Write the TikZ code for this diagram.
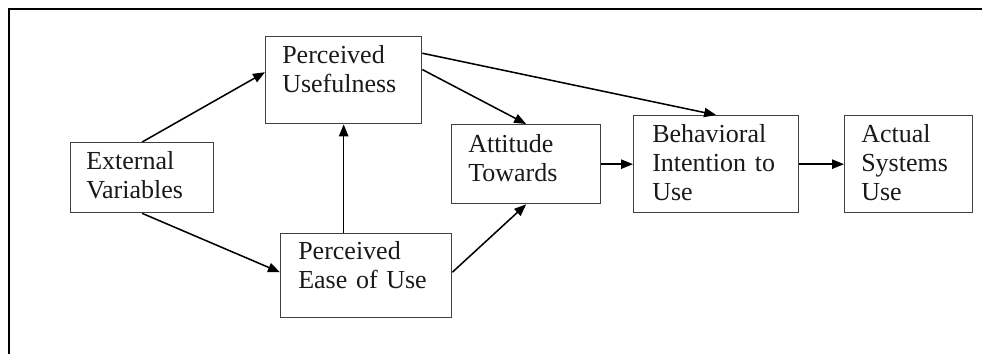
\documentclass[tikz,border=0pt]{standalone}
\usepackage{fontspec}
\setmainfont{Liberation Serif}
\usetikzlibrary{arrows.meta,calc}
\begin{document}
\begin{tikzpicture}[
  x=0.75pt, y=-0.75pt,
  box/.style={draw=black!75, line width=1pt, rectangle, inner sep=0pt, anchor=north west},
  lbl/.style={inner sep=0pt, align=left, text width=112pt, anchor=base west,
              font=\fontsize{19.5}{21.75}\selectfont, text=black!90},
  arr/.style={draw=black, line width=1.15pt, -{Triangle[length=9pt,width=7pt]}},
  frame/.style={draw=black, line width=1.3pt}
]
\useasboundingbox (0,0) rectangle (982,354);

% open frame: top and left rules only
\coordinate (fr-tl) at (9,9);
\coordinate (fr-tr) at (982,9);
\coordinate (fr-bl) at (9,354);
\draw[frame] (fr-tr) -- (fr-tl) -- (fr-bl);

% boxes
\node[box, minimum width=143*0.75pt, minimum height=70*0.75pt] (ext) at (70,142) {};
\node[box, minimum width=156*0.75pt, minimum height=87*0.75pt] (pu)  at (265,36) {};
\node[box, minimum width=171*0.75pt, minimum height=84*0.75pt] (peu) at (280,233) {};
\node[box, minimum width=149*0.75pt, minimum height=79*0.75pt] (att) at (451,124) {};
\node[box, minimum width=165*0.75pt, minimum height=97*0.75pt] (beh) at (633,115) {};
\node[box, minimum width=128*0.75pt, minimum height=97*0.75pt] (act) at (844,115) {};

% labels, set from the top-left corner of each box
\node[lbl] (ext-t) at ($(ext.north west)+(16,27)$) {External\\Variables};
\node[lbl] (pu-t)  at ($(pu.north west)+(17,27)$)  {Perceived\\Usefulness};
\node[lbl] (peu-t) at ($(peu.north west)+(18,26)$) {Perceived\\Ease of Use};
\node[lbl] (att-t) at ($(att.north west)+(17,28)$) {Attitude\\Towards};
\node[lbl] (beh-t) at ($(beh.north west)+(19,27)$) {Behavioral\\Intention to\\Use};
\node[lbl] (act-t) at ($(act.north west)+(17,27)$) {Actual\\Systems\\Use};

% connectors
\draw[arr] (ext.north) -- ($(pu.north west)!0.41!(pu.south west)$);
\draw[arr] (ext.south) -- ($(peu.north west)!0.46!(peu.south west)$);
\draw[arr] (pu.south |- peu.north) -- (pu.south);
\draw[arr] ($(peu.north east)!0.46!(peu.south east)$) -- (att.south);
\draw[arr] ($(pu.north east)!0.38!(pu.south east)$) -- (att.north);
\draw[arr] ($(pu.north east)!0.195!(pu.south east)$) -- (beh.north);
\draw[arr] (att.east) -- (beh.west);
\draw[arr] (beh.east) -- (act.west);
\end{tikzpicture}
\end{document}
